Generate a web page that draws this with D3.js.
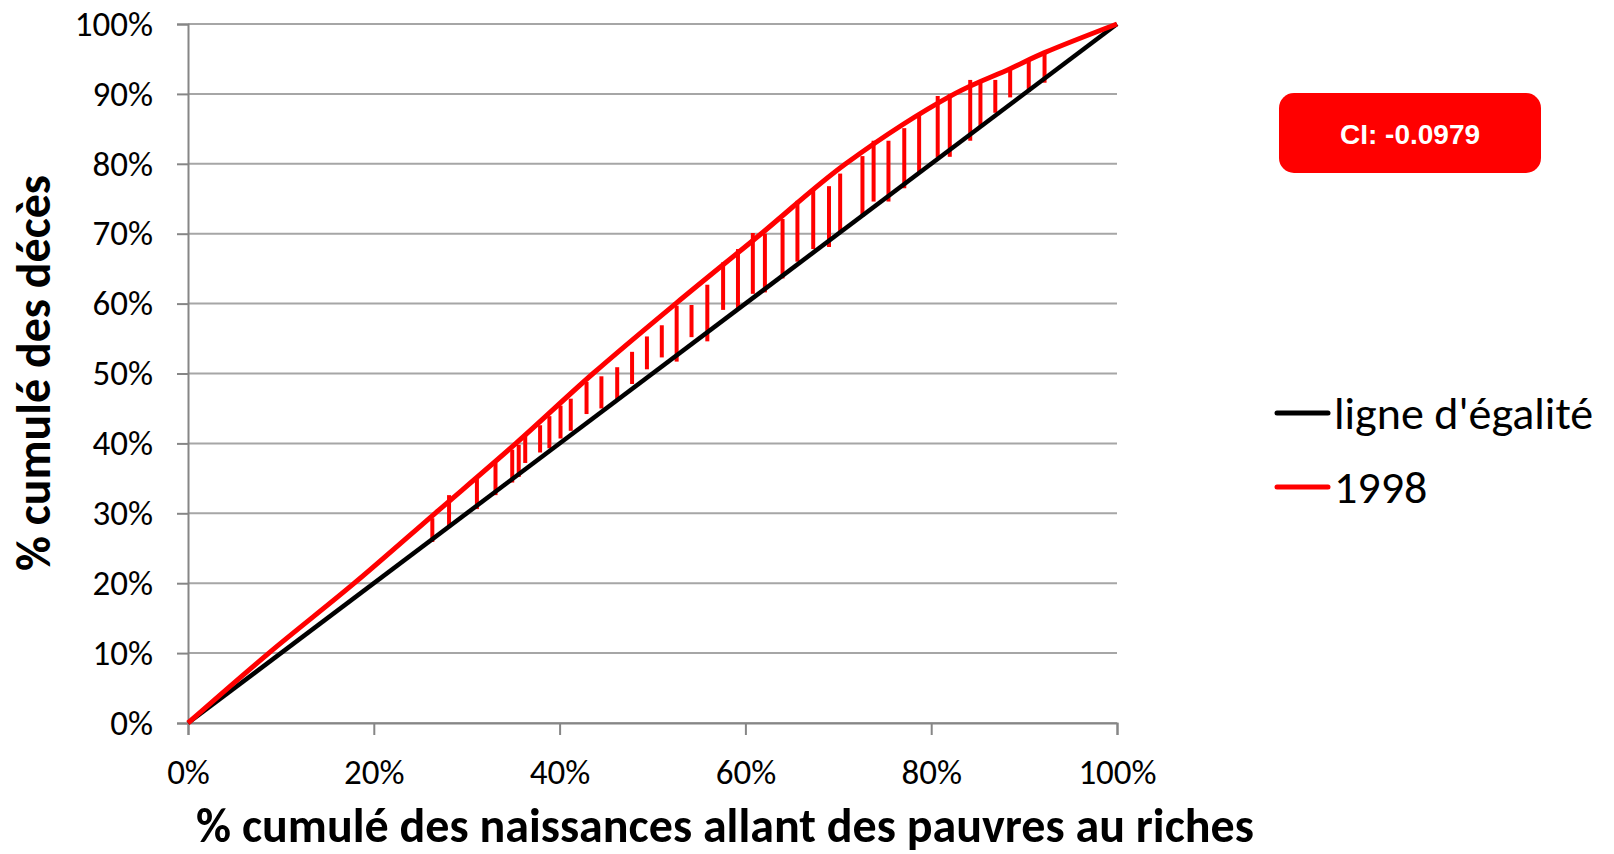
<!DOCTYPE html>
<html>
<head>
<meta charset="utf-8">
<script src="https://cdn.jsdelivr.net/npm/d3@7"></script>
<style>
  body { margin: 0; background: #fff; }
  text { font-family: Carlito, Lato, "Open Sans", sans-serif; }
</style>
</head>
<body>
<div id="chart"></div>
<script>
// tick values (percent)
const xTicks = [0, 20, 40, 60, 80, 100];
const yTicks = [0, 10, 20, 30, 40, 50, 60, 70, 80, 90, 100];

// line of equality
const equalX = [0, 100];
const equalY = [0, 100];

// concentration curve 1998
const curveX = [0, 8.7, 17.9, 26.6, 35.3, 43.6, 52.5, 61.7, 70.8, 82.5, 88.5, 92.2, 100];
const curveY = [0, 10, 20, 30, 40, 50, 60, 70, 80, 90, 93.6, 95.9, 100];

// red vertical drop lines: x, top, bottom
const dropX = [26.3, 28.1, 31.1, 33.1, 34.9, 35.6, 36.3, 37.9, 38.9, 40.1, 41.2, 42.9, 44.5, 46.2,
  47.8, 49.4, 51.0, 52.6, 54.2, 55.9, 57.6, 59.2, 60.8, 62.1, 64.0, 65.6, 67.3, 69.0, 70.2, 72.6,
  73.8, 75.4, 77.1, 78.7, 80.7, 82.0, 84.2, 85.3, 86.9, 88.5, 90.5, 92.2];
const dropTop = [29.3, 32.6, 35.2, 37.2, 39.1, 39.8, 41.3, 42.6, 43.9, 45.4, 46.4, 48.8, 49.6, 50.9,
  53.1, 55.3, 56.9, 59.7, 59.8, 62.7, 65.9, 67.8, 70.1, 70.0, 72.1, 74.7, 76.5, 76.8, 78.6, 81.1,
  83.3, 83.3, 85.1, 87.0, 89.7, 90.0, 92.0, 91.9, 92.0, 93.7, 94.7, 96.1];
const dropBottom = [25.9, 27.9, 30.6, 32.6, 34.4, 35.2, 37.2, 38.7, 39.3, 40.7, 41.8, 44.2, 45.0, 46.3,
  48.5, 50.6, 52.3, 51.7, 55.2, 54.6, 59.1, 59.1, 61.4, 61.6, 63.6, 66.0, 67.8, 68.1, 70.1, 72.4,
  74.6, 74.6, 76.5, 78.7, 80.9, 81.0, 83.3, 85.4, 87.3, 89.5, 90.3, 91.6];

const seriesNames = ["ligne d'égalité", "1998"];
const ciText = "CI: -0.0979";

const margin = { top: 24, left: 188 },
    width = 929,
    height = 699;

const svg = d3.select("#chart")
    .append("svg")
    .attr("width", 1614)
    .attr("height", 854);

const g = svg.append("g")
    .attr("transform", "translate(" + margin.left + "," + margin.top + ")");

const x = d3.scaleLinear().domain([0, 100]).range([0, width]);
const y = d3.scaleLinear().domain([0, 100]).range([height, 0]);

// horizontal gridlines
g.append("g")
    .selectAll("line")
    .data(yTicks)
    .enter()
    .append("line")
    .attr("x1", 0)
    .attr("x2", width)
    .attr("y1", d => y(d))
    .attr("y2", d => y(d))
    .attr("stroke", "#a6a6a6")
    .attr("stroke-width", 2);

// y axis
const yAxis = g.append("g")
    .call(d3.axisLeft(y).tickValues(yTicks).tickSize(11).tickPadding(24).tickFormat(d => d + "%"));
// x axis
const xAxis = g.append("g")
    .attr("transform", "translate(0," + height + ")")
    .call(d3.axisBottom(x).tickValues(xTicks).tickSize(12).tickPadding(24).tickFormat(d => d + "%"));

[yAxis, xAxis].forEach(a => {
    a.select(".domain").attr("stroke", "#868686").attr("stroke-width", 2);
    a.selectAll(".tick line").attr("stroke", "#868686").attr("stroke-width", 2);
    a.selectAll(".tick text")
        .attr("font-size", 35)
        .attr("fill", "#000")
        .style("font-family", "Carlito, Lato, sans-serif");
});

// drop lines
g.append("g")
    .selectAll("line")
    .data(dropX)
    .enter()
    .append("line")
    .attr("x1", d => x(d))
    .attr("x2", d => x(d))
    .attr("y1", (d, i) => y(dropTop[i]))
    .attr("y2", (d, i) => y(dropBottom[i]))
    .attr("stroke", "#ff0000")
    .attr("stroke-width", 4);

// line of equality
g.append("path")
    .datum(equalX.map((d, i) => [d, equalY[i]]))
    .attr("fill", "none")
    .attr("stroke", "#000")
    .attr("stroke-width", 4.5)
    .attr("d", d3.line().x(d => x(d[0])).y(d => y(d[1])));

// 1998 curve
g.append("path")
    .datum(curveX.map((d, i) => [d, curveY[i]]))
    .attr("fill", "none")
    .attr("stroke", "#ff0000")
    .attr("stroke-width", 5)
    .attr("stroke-linejoin", "round")
    .attr("d", d3.line().curve(d3.curveCatmullRom.alpha(0.5)).x(d => x(d[0])).y(d => y(d[1])));

// axis titles, scaled to fit the reference lengths
function fitText(sel, target) {
    const w = sel.node().getComputedTextLength();
    sel.attr("font-size", 40 * target / w);
}

const xTitle = svg.append("text")
    .text("% cumulé des naissances allant des pauvres au riches")
    .attr("x", 725)
    .attr("y", 842)
    .attr("text-anchor", "middle")
    .attr("font-weight", "bold")
    .attr("font-size", 40);
fitText(xTitle, 1058);

const yTitle = svg.append("text")
    .text("% cumulé des décès")
    .attr("text-anchor", "middle")
    .attr("font-weight", "bold")
    .attr("font-size", 40)
    .attr("transform", "translate(50,373) rotate(-90)");
fitText(yTitle, 396);

// legend
const legend = svg.append("g");
const legendColors = ["#000", "#ff0000"];
const legendY = [413, 487];
seriesNames.forEach((name, i) => {
    legend.append("line")
        .attr("x1", 1277).attr("x2", 1328)
        .attr("y1", legendY[i]).attr("y2", legendY[i])
        .attr("stroke", legendColors[i])
        .attr("stroke-width", 5)
        .attr("stroke-linecap", "round");
    legend.append("text")
        .text(name)
        .attr("x", 1334)
        .attr("y", legendY[i] + 16)
        .attr("font-size", 46)
        .attr("fill", "#000");
});

// CI box
svg.append("rect")
    .attr("x", 1279).attr("y", 93)
    .attr("width", 262).attr("height", 80)
    .attr("rx", 15)
    .attr("fill", "#ff0000");
svg.append("text")
    .text(ciText)
    .attr("x", 1410)
    .attr("y", 144)
    .attr("text-anchor", "middle")
    .attr("font-size", 28)
    .attr("font-weight", "bold")
    .attr("fill", "#fff")
    .style("font-family", "'Liberation Sans', Arial, sans-serif");
</script>
</body>
</html>
